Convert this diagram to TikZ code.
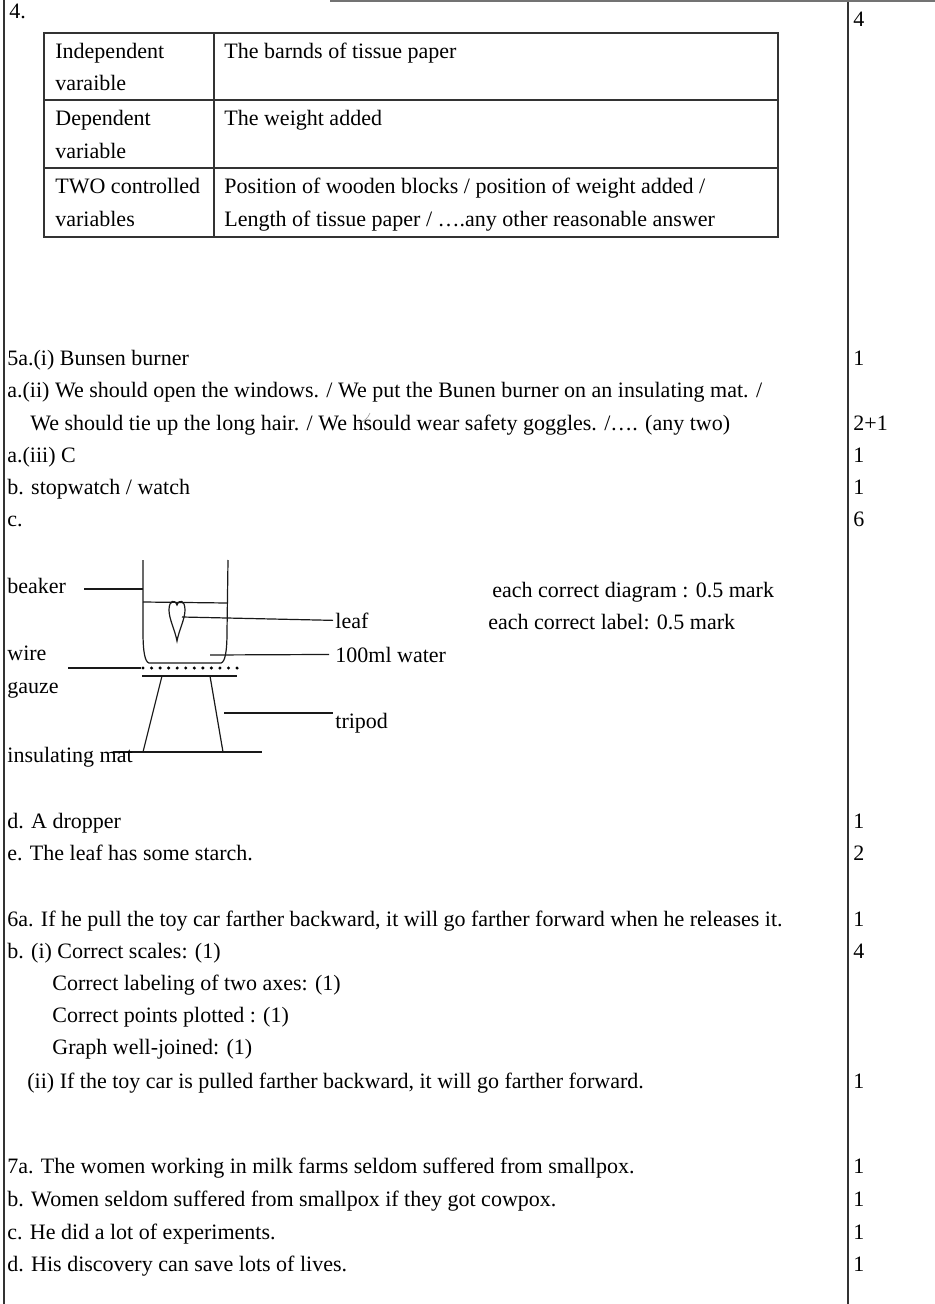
\documentclass[tikz,border=0pt]{standalone}
\usepackage{fontspec}
\setmainfont{Liberation Serif}
\usepackage{tikz}
\usetikzlibrary{positioning}

\tikzset{
    txt/.style = {anchor = base west, inner sep = 0pt, font = \fontsize{11}{13}\selectfont},
    markno/.style = {txt},
    frame/.style = {line width = 0.7pt, black!80},
    rule/.style = {line width = 0.6pt, black!90},
}

\begin{document}
\begin{tikzpicture}[x = 0.5pt, y = -0.5pt]
    \useasboundingbox (0,0) rectangle (935,1304);
    % frame %
    \draw[frame] (4,0) -- (4,1304);
    \draw[frame] (848,0) -- (848,1304);
    \draw[frame, black!55] (330,1) -- (935,1);
    \coordinate (mcol) at (853,0);

    % question 4 %
    \node[txt] (q4) at (9,19) {4.};
    \node[markno] (m4) at (853,27) {4};
    \draw[frame] (44,33) rectangle (778,237);
    \draw[frame] (44,100) -- (778,100);
    \draw[frame] (44,168) -- (778,168);
    \draw[frame] (214,33) -- (214,237);
    \node[txt] (ind1) at (55,59) {Independent};
    \node[txt] (ind2) at (55,91) {varaible};
    \node[txt] (indv) at (224,59) {The barnds of tissue paper};
    \node[txt] (dep1) at (55,126) {Dependent};
    \node[txt] (dep2) at (55,159) {variable};
    \node[txt] (depv) at (224,126) {The weight added};
    \node[txt] (ctl1) at (55,194) {TWO controlled};
    \node[txt] (ctl2) at (55,227) {variables};
    \node[txt] (ctlv1) at (224,194) {Position of wooden blocks / position of weight added /};
    \node[txt] (ctlv2) at (224,227) {Length of tissue paper / ….any other reasonable answer};

    % question 5 %
    \node[txt] (q5ai) at (7,366) {5a.(i) Bunsen burner};
    \node[txt] (q5aii) at (7,398) {a.(ii) We should open the windows. / We put the Bunen burner on an insulating mat. /};
    \node[txt] (q5aii2) at (30,430) {We should tie up the long hair. / We hsould wear safety goggles. /…. (any two)};
    \node[txt] (q5aiii) at (7,462) {a.(iii) C};
    \node[txt] (q5b) at (7,494) {b. stopwatch / watch};
    \node[txt] (q5c) at (7,526) {c.};
    \node[markno] (m5ai) at (mcol |- q5ai.base) {1};
    \node[markno] (m5aii) at (mcol |- q5aii2.base) {2+1};
    \node[markno] (m5aiii) at (mcol |- q5aiii.base) {1};
    \node[markno] (m5b) at (mcol |- q5b.base) {1};
    \node[markno] (m5c) at (mcol |- q5c.base) {6};
    \draw[black!40, line width = 0.3pt] (358,423) .. controls (364,422) and (368,418) .. (370,413);

    % apparatus %
    \draw[rule] (143,560) -- (143,632) .. controls (143,652) and (145,662) .. (149,663)
        -- (221,663) .. controls (225,662) and (227,652) .. (227,632) -- (228,560);
    \draw[rule] (143,602) -- (227,603);
    \draw[rule] (177,605) .. controls (175,599) and (169,600) .. (169,610)
        .. controls (169,619) and (175,630) .. (177,641)
        .. controls (179,630) and (185,619) .. (185,610)
        .. controls (185,600) and (179,599) .. (177,605) -- cycle;
    \foreach \i in {0,...,11}
        \fill (143+\i*8.55,668) circle (1.7);
    \draw[rule] (142,676) -- (237,676);
    \draw[rule] (162,676) -- (143,752);
    \draw[rule] (210,676) -- (223,752);
    \draw[rule] (113,752) -- (262,752);

    % labels %
    \node[txt] (beaker) at (7,593) {beaker};
    \node[txt] (wire) at (7,660) {wire};
    \node[txt] (gauze) at (7,693) {gauze};
    \node[txt] (mat) at (7,762) {insulating mat};
    \node[txt] (leaf) at (335,628) {leaf};
    \node[txt] (water) at (335,662) {100ml water};
    \node[txt] (tripod) at (335,728) {tripod};
    \node[txt] (mkdiag) at (492,597) {each correct diagram : 0.5 mark};
    \node[txt] (mklab) at (488,629) {each correct label: 0.5 mark};
    \coordinate (beakerpt) at (84,589);
    \coordinate (beakerwall) at (143,589);
    \coordinate (wirept) at (68,668);
    \coordinate (wiredot) at (141,668);
    \coordinate (leafpt) at (182,617);
    \coordinate (waterpt) at (210,655);
    \coordinate (tripodpt) at (224,713);
    \draw[rule] (beakerpt) -- (beakerwall);
    \draw[rule] (wirept) -- (wiredot);
    \draw[rule] (leafpt) -- ([xshift = -1pt]leaf.west);
    \draw[rule] (waterpt) -- ([xshift = -3pt]water.west);
    \draw[rule] (tripodpt) -- ([xshift = -1pt]tripod.west |- tripodpt);

    % question 5 d, e %
    \node[txt] (q5d) at (7,828) {d. A dropper};
    \node[txt] (q5e) at (7,860) {e. The leaf has some starch.};
    \node[markno] (m5d) at (mcol |- q5d.base) {1};
    \node[markno] (m5e) at (mcol |- q5e.base) {2};

    % question 6 %
    \node[txt] (q6a) at (7,926) {6a. If he pull the toy car farther backward, it will go farther forward when he releases it.};
    \node[txt] (q6bi) at (7,958) {b. (i) Correct scales: (1)};
    \node[txt] (q6bi2) at (52,990) {Correct labeling of two axes: (1)};
    \node[txt] (q6bi3) at (52,1022) {Correct points plotted : (1)};
    \node[txt] (q6bi4) at (52,1054) {Graph well-joined: (1)};
    \node[txt] (q6bii) at (27,1088) {(ii) If the toy car is pulled farther backward, it will go farther forward.};
    \node[markno] (m6a) at (mcol |- q6a.base) {1};
    \node[markno] (m6bi) at (mcol |- q6bi.base) {4};
    \node[markno] (m6bii) at (mcol |- q6bii.base) {1};

    % question 7 %
    \node[txt] (q7a) at (7,1173) {7a. The women working in milk farms seldom suffered from smallpox.};
    \node[txt] (q7b) at (7,1206) {b. Women seldom suffered from smallpox if they got cowpox.};
    \node[txt] (q7c) at (7,1239) {c. He did a lot of experiments.};
    \node[txt] (q7d) at (7,1271) {d. His discovery can save lots of lives.};
    \node[markno] (m7a) at (mcol |- q7a.base) {1};
    \node[markno] (m7b) at (mcol |- q7b.base) {1};
    \node[markno] (m7c) at (mcol |- q7c.base) {1};
    \node[markno] (m7d) at (mcol |- q7d.base) {1};
\end{tikzpicture}
\end{document}
